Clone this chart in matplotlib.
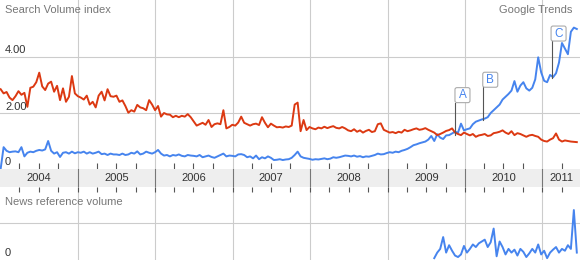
import pandas as pd
import matplotlib.pyplot as plt
import matplotlib.dates as mdates
from matplotlib.patches import FancyBboxPatch
from matplotlib.transforms import IdentityTransform

# Search volume, one value every two weeks, Jan 2004 - Jun 2011
red_values = [
    2.85, 2.7, 2.75, 2.55, 2.46, 2.6, 2.78, 2.65, 2.72, 2.22, 2.9, 2.94, 3.1,
    3.44, 2.95, 2.82, 3.05, 3.12, 2.76, 2.97, 2.46, 2.88, 2.4, 2.58, 3.32, 2.7,
    2.6, 2.55, 2.48, 2.62, 2.3, 2.4, 2.2, 2.62, 2.76, 2.45, 2.85, 2.6, 2.58,
    2.62, 2.4, 2.45, 2.25, 2.01, 2.1, 2.05, 2.29, 2.2, 2.17, 2.1, 2.46, 2.3,
    2.1, 2.25, 1.87, 2.0, 1.95, 1.94, 1.85, 1.9, 1.85, 1.9, 1.87, 1.96, 1.85,
    1.7, 1.55, 1.6, 1.65, 1.58, 1.75, 1.5, 1.6, 1.63, 1.6, 2.1, 1.45, 1.5,
    1.58, 1.55, 1.66, 1.87, 1.65, 1.6, 1.55, 1.6, 1.62, 1.57, 1.85, 1.65, 1.49,
    1.62, 1.55, 1.49, 1.5, 1.48, 1.52, 1.5, 1.55, 2.3, 2.37, 1.35, 1.75, 1.39,
    1.5, 1.45, 1.42, 1.48, 1.45, 1.51, 1.46, 1.5, 1.53, 1.47, 1.45, 1.5, 1.45,
    1.38, 1.35, 1.42, 1.33, 1.38, 1.3, 1.36, 1.4, 1.32, 1.35, 1.6, 1.63, 1.4,
    1.35, 1.3, 1.32, 1.28, 1.33, 1.3, 1.4, 1.35, 1.38, 1.42, 1.45, 1.4, 1.42,
    1.46, 1.4, 1.35, 1.3, 1.21, 1.25, 1.3, 1.36, 1.39, 1.45, 1.3, 1.25, 1.21,
    1.3, 1.25, 1.2, 1.25, 1.15, 1.2, 1.22, 1.25, 1.18, 1.2, 1.28, 1.3, 1.33,
    1.38, 1.3, 1.25, 1.35, 1.21, 1.28, 1.25, 1.2, 1.15, 1.2, 1.22, 1.18, 1.15,
    1.05, 1.0, 0.98, 1.05, 1.1, 1.27, 1.05, 0.98, 1.02, 1.0, 0.98, 0.97, 0.96,
]
blue_values = [
    0.0, 0.78, 0.65, 0.6, 0.62, 0.63, 0.6, 0.78, 0.45, 0.58, 0.62, 0.6, 0.65,
    0.68, 0.66, 0.7, 1.0, 0.65, 0.55, 0.6, 0.43, 0.58, 0.6, 0.55, 0.62, 0.56,
    0.6, 0.58, 0.62, 0.55, 0.6, 0.55, 0.58, 0.62, 0.53, 0.55, 0.5, 0.55, 0.52,
    0.52, 0.5, 0.55, 0.5, 0.52, 0.58, 0.55, 0.63, 0.52, 0.55, 0.62, 0.58, 0.55,
    0.6, 0.68, 0.55, 0.48, 0.5, 0.45, 0.5, 0.48, 0.52, 0.47, 0.45, 0.5, 0.48,
    0.47, 0.45, 0.5, 0.42, 0.45, 0.48, 0.43, 0.4, 0.45, 0.5, 0.55, 0.45, 0.48,
    0.47, 0.45, 0.52, 0.53, 0.5, 0.42, 0.45, 0.38, 0.48, 0.35, 0.42, 0.38, 0.45,
    0.4, 0.32, 0.33, 0.35, 0.32, 0.34, 0.35, 0.4, 0.5, 0.62, 0.45, 0.4, 0.38,
    0.36, 0.33, 0.35, 0.34, 0.36, 0.38, 0.35, 0.37, 0.42, 0.4, 0.42, 0.45, 0.48,
    0.47, 0.45, 0.48, 0.44, 0.46, 0.42, 0.45, 0.44, 0.47, 0.5, 0.55, 0.52, 0.53,
    0.57, 0.6, 0.58, 0.62, 0.6, 0.65, 0.68, 0.72, 0.78, 0.85, 0.88, 0.92, 0.95,
    0.98, 1.05, 1.18, 1.0, 1.24, 1.12, 1.07, 1.2, 1.21, 1.27, 1.33, 1.3, 1.62,
    1.38, 1.42, 1.45, 1.6, 1.69, 1.73, 1.77, 1.8, 1.85, 2.0, 2.1, 2.2, 2.3,
    2.48, 2.58, 2.68, 2.8, 3.14, 2.76, 2.98, 3.1, 2.88, 2.8, 2.9, 3.2, 3.99,
    3.45, 3.15, 3.1, 3.36, 3.28, 3.42, 3.8, 4.5, 4.3, 4.1, 4.9, 5.05, 5.0,
]
dates = pd.date_range("2004-01-04", periods=len(red_values), freq="14D")

# News reference volume, starts Aug 2009
news_values = [
    0.05, 0.2, 0.3, 0.62, 0.2, 0.4, 0.25, 0.12, 0.08, 0.15, 0.38, 0.2, 0.3,
    0.42, 0.35, 0.45, 0.5, 0.55, 0.35, 0.48, 0.85, 0.1, 0.5, 0.35, 0.15, 0.3,
    0.2, 0.28, 0.12, 0.3, 0.22, 0.08, 0.18, 0.3, 0.2, 0.42, 0.15, 0.25, 0.05,
    0.2, 0.28, 0.35, 0.2, 0.3, 0.25, 0.4, 0.3, 1.35, 0.2,
]
news_dates = pd.date_range("2009-08-09", periods=len(news_values), freq="14D")

# Flags: label, date of stem, value where stem meets the line, top of stem
flag_labels = ["A", "B", "C"]
flag_dates = ["2009-11-17", "2010-03-28", "2011-02-13"]
flag_low = [1.21, 1.75, 3.24]
flag_high = [2.37, 2.92, 4.57]

years = [2004, 2005, 2006, 2007, 2008, 2009, 2010, 2011]

RED = "#dc3912"
BLUE = "#4684ee"
GRID = "#cccccc"
plt.rcParams["font.family"] = ["Liberation Sans", "DejaVu Sans"]

start = pd.Timestamp("2004-01-01")
end = pd.Timestamp("2011-06-27")
year_starts = [pd.Timestamp(f"{y}-01-01") for y in years]
quarters = pd.date_range("2004-01-01", end, freq="QS")
inner_quarters = [q for q in quarters if q.month != 1]

fig = plt.figure(figsize=(5.8, 2.6), dpi=100)
ax = fig.add_axes([0, 91 / 260, 1, 169 / 260])
band = fig.add_axes([0, 72.7 / 260, 1, 18.3 / 260])
ax2 = fig.add_axes([0, 0, 1, 72.7 / 260])

for a in (ax, band, ax2):
    a.set_xlim(start, end)
    for s in a.spines.values():
        s.set_visible(False)
    a.set_yticks([])

# Top chart
ax.set_ylim(0, 169 / 28)
for d in year_starts[1:]:
    ax.axvline(d, color=GRID, lw=0.8, zorder=0)
for v in [2, 4]:
    ax.axhline(v, color=GRID, lw=0.8, zorder=0)
ax.plot(dates, blue_values, color=BLUE, lw=1.4, zorder=2)
ax.plot(dates, red_values, color=RED, lw=1.4, zorder=3)
ax.set_xticks(inner_quarters)
ax.tick_params(axis="x", direction="in", length=4.3, width=0.8, color="#555555",
               labelbottom=False)

# Flag boxes, 15 px square, left edge on the stem
for lab, d, lo, hi in zip(flag_labels, flag_dates, flag_low, flag_high):
    d = pd.Timestamp(d)
    ax.plot([d, d], [lo, hi], color="#555555", lw=0.8, zorder=4)
    x0, y0 = ax.transData.transform((mdates.date2num(d), hi))
    box = FancyBboxPatch((x0 - 0.5, y0), 15, 15,
                         boxstyle="round,pad=0,rounding_size=2",
                         transform=IdentityTransform(), fc="white",
                         ec="#aaaaaa", lw=0.8, zorder=5, clip_on=False)
    ax.add_patch(box)
    ax.text(x0 + 7, y0 + 7.5, lab, transform=IdentityTransform(), ha="center",
            va="center", color=BLUE, fontsize=8.5, zorder=6)

# Year band
band.set_facecolor("#eeeeee")
band.set_xticks([])
for d in year_starts[1:]:
    band.axvline(d, color="#777777", lw=0.8)
for i, d in enumerate(year_starts):
    nxt = year_starts[i + 1] if i + 1 < len(year_starts) else end
    mid = d + (nxt - d) / 2
    band.text(mid, 0.5, str(years[i]), ha="center", va="center",
              fontsize=8, color="#333333", transform=band.get_xaxis_transform())

# News chart
ax2.set_ylim(0, 72.7 / 37)
for d in year_starts[1:]:
    ax2.axvline(d, color=GRID, lw=0.8, zorder=0)
ax2.axhline(1, color=GRID, lw=0.8, zorder=0)
ax2.plot(news_dates, news_values, color=BLUE, lw=1.4)
ax2.set_xticks(quarters[1:])
ax2.tick_params(axis="x", direction="in", length=3.9, width=0.8, color="#555555",
                top=True, bottom=False, labelbottom=False)

# Labels
fig.text(5 / 580, 1 - 10 / 260, "Search Volume index", va="center",
         fontsize=8, color="#777777")
fig.text(572 / 580, 1 - 10 / 260, "Google Trends", va="center", ha="right",
         fontsize=8, color="#777777")
fig.text(5 / 580, 1 - 50 / 260, "4.00", va="center", fontsize=8, color="#333333")
fig.text(5 / 580, 1 - 106.7 / 260, "2.00", va="center", fontsize=8, color="#333333")
fig.text(5 / 580, 1 - 162 / 260, "0", va="center", fontsize=8, color="#333333")
fig.text(5 / 580, 1 - 201.7 / 260, "News reference volume", va="center",
         fontsize=8, color="#777777")
fig.text(5 / 580, 1 - 253.3 / 260, "0", va="center", fontsize=8, color="#333333")

fig.savefig("out.png", dpi=100)
